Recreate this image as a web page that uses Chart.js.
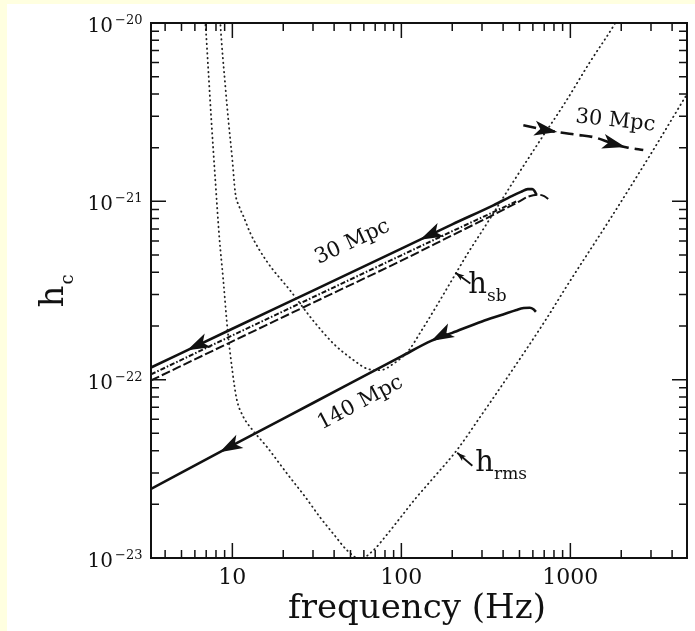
<!DOCTYPE html>
<html>
<head>
<meta charset="utf-8">
<script src="https://cdn.jsdelivr.net/npm/chart.js@4.4.1/dist/chart.umd.min.js"></script>
<style>
  html, body { margin: 0; padding: 0; background: #FFFFE0; }
  canvas { display: block; }
</style>
</head>
<body>
<canvas id="hcChart" width="695" height="631"></canvas>
<script>
// Axis ranges and ticks
const xRange = [3.3, 4900];
const yRange = [1e-23, 1e-20];
const xMajorTicks = [10, 100, 1000];
const xTickLabels = ['10', '100', '1000'];
const xMinorTicks = [4, 5, 6, 7, 8, 9, 20, 30, 40, 50, 60, 70, 80, 90, 200, 300, 400, 500, 600, 700, 800, 900, 2000, 3000, 4000];
const yMajorTicks = [1e-20, 1e-21, 1e-22, 1e-23];
const yTickExponents = ['\u221220', '\u221221', '\u221222', '\u221223'];
const yMinorTicks = [2e-23, 3e-23, 4e-23, 5e-23, 6e-23, 7e-23, 8e-23, 9e-23,
                     2e-22, 3e-22, 4e-22, 5e-22, 6e-22, 7e-22, 8e-22, 9e-22,
                     2e-21, 3e-21, 4e-21, 5e-21, 6e-21, 7e-21, 8e-21, 9e-21];

// h_sb noise curve (upper dotted)
const sbFreq = [8.45, 8.49, 9.09, 9.47, 10.0, 10.4, 11.0, 11.6, 12.8, 16, 22, 30, 40, 52, 63, 75, 90, 110, 130, 160, 195, 250, 300, 460, 663, 935, 1300, 1845, 1950];
const sbH = [1.1e-20, 1e-20, 4.4e-21, 2.85e-21, 1.7e-21, 1.12e-21, 9.3e-22, 8.3e-22, 6.6e-22, 4.6e-22, 3.16e-22, 2.15e-22, 1.58e-22, 1.29e-22, 1.15e-22, 1.13e-22, 1.23e-22, 1.45e-22, 1.85e-22, 2.55e-22, 3.5e-22, 5.2e-22, 6.8e-22, 1.29e-21, 2.2e-21, 3.6e-21, 6.0e-21, 1.0e-20, 1.1e-20];

// h_rms noise curve (lower dotted)
const rmsFreq = [6.85, 6.92, 7.21, 7.51, 7.93, 8.37, 8.84, 9.34, 10.0, 10.6, 11.6, 13.0, 16, 21.2, 27, 33.2, 40, 47.9, 57, 68, 82, 98.5, 121, 150, 214, 300, 412, 700, 1000, 1725, 3000, 4670, 5300];
const rmsH = [1.1e-20, 1e-20, 5.4e-21, 2.85e-21, 1.31e-21, 6.3e-22, 3.6e-22, 1.96e-22, 1.12e-22, 7.8e-23, 6.2e-23, 5.3e-23, 4.2e-23, 2.95e-23, 2.2e-23, 1.68e-23, 1.35e-23, 1.1e-23, 9.9e-24, 1.1e-23, 1.35e-23, 1.68e-23, 2.15e-23, 2.72e-23, 4.05e-23, 6.4e-23, 9.9e-23, 2.1e-22, 3.6e-22, 8.0e-22, 1.85e-21, 3.7e-21, 4.5e-21];

// 30 Mpc tracks (solid, dash-dot, dashed)
const solid30Freq = [3.3, 10, 30, 100, 200, 350, 450, 510, 560, 595, 615, 630];
const solid30H = [1.17e-22, 1.93e-22, 3.16e-22, 5.43e-22, 7.43e-22, 9.5e-22, 1.07e-21, 1.13e-21, 1.17e-21, 1.17e-21, 1.14e-21, 1.09e-21];
const dashDot30Freq = [3.3, 10, 30, 100, 200, 350, 480];
const dashDot30H = [1.07e-22, 1.77e-22, 2.9e-22, 4.98e-22, 6.8e-22, 8.7e-22, 1.0e-21];
const dashed30Freq = [3.3, 10, 30, 100, 200, 350, 500, 560, 640, 700, 750];
const dashed30H = [9.9e-23, 1.64e-22, 2.7e-22, 4.65e-22, 6.45e-22, 8.4e-22, 1.0e-21, 1.06e-21, 1.09e-21, 1.07e-21, 1.02e-21];

// 140 Mpc track
const solid140Freq = [3.3, 10, 30, 100, 150, 200, 300, 400, 480, 530, 575, 605, 625];
const solid140H = [2.44e-23, 4.28e-23, 7.4e-23, 1.35e-22, 1.65e-22, 1.83e-22, 2.12e-22, 2.32e-22, 2.46e-22, 2.52e-22, 2.53e-22, 2.48e-22, 2.4e-22];

// 30 Mpc high-frequency track (dashed, top right)
const top30Freq = [527, 700, 850, 1100, 1400, 1800, 2200, 2700];
const top30H = [2.67e-21, 2.52e-21, 2.44e-21, 2.36e-21, 2.28e-21, 2.1e-21, 2.0e-21, 1.94e-21];

// Arrowheads along the tracks: dataset index, tip frequency, direction (+1 towards higher f)
const arrowSeries = [2, 2, 5, 5, 6, 6];
const arrowFreq = [5.4, 129, 8.4, 150, 837, 2115];
const arrowDir = [-1, -1, -1, -1, 1, 1];

// Text annotations placed in data coordinates
const noteText = ['30 Mpc', '140 Mpc', '30 Mpc'];
const noteFreq = [51.3, 57.2, 1845];
const noteH = [5.9e-22, 7.4e-23, 2.82e-21];
const noteAngle = [-25, -28, 6];

// Noise curve labels with small pointers
const curveLabelMain = ['h', 'h'];
const curveLabelSub = ['sb', 'rms'];
const curveLabelFreq = [249, 274];
const curveLabelH = [3.08e-22, 3.08e-23];
const pointerFromFreq = [256, 263];
const pointerFromH = [3.46e-22, 3.29e-23];
const pointerToFreq = [209, 214];
const pointerToH = [3.98e-22, 3.89e-23];

const serif = '"DejaVu Serif", "Liberation Serif", serif';
const ink = '#111';

function toPoints(fs, hs) {
    return fs.map((f, i) => ({ x: f, y: hs[i] }));
}

// Point on a drawn dataset at a given frequency, with local direction
function pointOnCurve(chart, dsIndex, freq) {
    const px = chart.scales.x.getPixelForValue(freq);
    const pts = chart.getDatasetMeta(dsIndex).data;
    for (let i = 0; i < pts.length - 1; i++) {
        const p0 = pts[i], p1 = pts[i + 1];
        if (px >= p0.x && px <= p1.x) {
            const t = (px - p0.x) / (p1.x - p0.x);
            return { x: px, y: p0.y + t * (p1.y - p0.y), dx: p1.x - p0.x, dy: p1.y - p0.y };
        }
    }
    return null;
}

function drawHead(ctx, tipX, tipY, ux, uy, len, half) {
    const nx = -uy, ny = ux;
    ctx.beginPath();
    ctx.moveTo(tipX, tipY);
    ctx.lineTo(tipX - ux * len + nx * half, tipY - uy * len + ny * half);
    ctx.lineTo(tipX - ux * len * 0.75, tipY - uy * len * 0.75);
    ctx.lineTo(tipX - ux * len - nx * half, tipY - uy * len - ny * half);
    ctx.closePath();
    ctx.fill();
}

// Background: pale yellow page with white panel
const backgroundPlugin = {
    id: 'background',
    beforeDraw(chart) {
        const ctx = chart.ctx;
        ctx.save();
        ctx.fillStyle = '#FFFFE0';
        ctx.fillRect(0, 0, chart.width, chart.height);
        ctx.fillStyle = '#FFFFFF';
        ctx.fillRect(7, 4, chart.width - 7, chart.height - 4);
        ctx.restore();
    }
};

// Frame, inward ticks, tick labels and axis titles
const axesPlugin = {
    id: 'axesFrame',
    afterDraw(chart) {
        const { ctx, chartArea: a, scales: { x, y } } = chart;
        ctx.save();
        ctx.strokeStyle = ink;
        ctx.lineWidth = 2;
        ctx.strokeRect(a.left, a.top, a.right - a.left, a.bottom - a.top);

        ctx.lineWidth = 1.5;
        ctx.beginPath();
        xMinorTicks.forEach(v => {
            const px = x.getPixelForValue(v);
            ctx.moveTo(px, a.bottom); ctx.lineTo(px, a.bottom - 8);
            ctx.moveTo(px, a.top); ctx.lineTo(px, a.top + 8);
        });
        xMajorTicks.forEach(v => {
            const px = x.getPixelForValue(v);
            ctx.moveTo(px, a.bottom); ctx.lineTo(px, a.bottom - 15);
            ctx.moveTo(px, a.top); ctx.lineTo(px, a.top + 15);
        });
        yMinorTicks.forEach(v => {
            const py = y.getPixelForValue(v);
            ctx.moveTo(a.left, py); ctx.lineTo(a.left + 8, py);
            ctx.moveTo(a.right, py); ctx.lineTo(a.right - 8, py);
        });
        yMajorTicks.forEach(v => {
            const py = y.getPixelForValue(v);
            ctx.moveTo(a.left, py); ctx.lineTo(a.left + 15, py);
            ctx.moveTo(a.right, py); ctx.lineTo(a.right - 15, py);
        });
        ctx.stroke();

        ctx.fillStyle = ink;
        ctx.textBaseline = 'alphabetic';
        ctx.font = '22px ' + serif;
        ctx.textAlign = 'center';
        xMajorTicks.forEach((v, i) => {
            ctx.fillText(xTickLabels[i], x.getPixelForValue(v), a.bottom + 26);
        });

        yMajorTicks.forEach((v, i) => {
            const py = y.getPixelForValue(v);
            ctx.font = '20px ' + serif;
            ctx.textAlign = 'right';
            ctx.fillText('10', a.left - 38, py + 9);
            ctx.font = '13px ' + serif;
            ctx.textAlign = 'left';
            ctx.fillText(yTickExponents[i], a.left - 36, py + 1);
        });

        // axis titles
        ctx.font = '34px ' + serif;
        ctx.textAlign = 'center';
        ctx.fillText('frequency (Hz)', (a.left + a.right) / 2 - 2, a.bottom + 60);

        ctx.save();
        ctx.translate(a.left - 88, (a.top + a.bottom) / 2 + 17);
        ctx.rotate(-Math.PI / 2);
        ctx.textAlign = 'left';
        ctx.font = '34px ' + serif;
        ctx.fillText('h', 0, 0);
        const hw = ctx.measureText('h').width;
        ctx.font = '18px ' + serif;
        ctx.fillText('c', hw + 1, 10);
        ctx.restore();
        ctx.restore();
    }
};

// Arrowheads, track labels and curve labels
const notesPlugin = {
    id: 'notes',
    afterDatasetsDraw(chart) {
        const { ctx, scales: { x, y } } = chart;
        ctx.save();
        ctx.fillStyle = ink;
        ctx.strokeStyle = ink;

        arrowFreq.forEach((f, i) => {
            const p = pointOnCurve(chart, arrowSeries[i], f);
            if (!p) return;
            const len = Math.hypot(p.dx, p.dy);
            const ux = p.dx / len * arrowDir[i], uy = p.dy / len * arrowDir[i];
            drawHead(ctx, p.x, p.y, ux, uy, 23, 7.5);
        });

        ctx.font = '21px ' + serif;
        ctx.textAlign = 'center';
        ctx.textBaseline = 'middle';
        noteText.forEach((t, i) => {
            ctx.save();
            ctx.translate(x.getPixelForValue(noteFreq[i]), y.getPixelForValue(noteH[i]));
            ctx.rotate(noteAngle[i] * Math.PI / 180);
            ctx.fillText(t, 0, 0);
            ctx.restore();
        });

        ctx.textAlign = 'left';
        ctx.textBaseline = 'alphabetic';
        curveLabelMain.forEach((m, i) => {
            const lx = x.getPixelForValue(curveLabelFreq[i]);
            const ly = y.getPixelForValue(curveLabelH[i]);
            ctx.font = '29px ' + serif;
            ctx.fillText(m, lx, ly);
            const w = ctx.measureText(m).width;
            ctx.font = '17px ' + serif;
            ctx.fillText(curveLabelSub[i], lx + w, ly + 8);

            const fx = x.getPixelForValue(pointerFromFreq[i]);
            const fy = y.getPixelForValue(pointerFromH[i]);
            const tx = x.getPixelForValue(pointerToFreq[i]);
            const ty = y.getPixelForValue(pointerToH[i]);
            ctx.lineWidth = 1.8;
            ctx.beginPath();
            ctx.moveTo(fx, fy);
            ctx.lineTo(tx, ty);
            ctx.stroke();
            const d = Math.hypot(tx - fx, ty - fy);
            drawHead(ctx, tx, ty, (tx - fx) / d, (ty - fy) / d, 9, 3);
        });
        ctx.restore();
    }
};

const dotted = { borderDash: [0.5, 4.2], borderWidth: 1.8, borderCapStyle: 'round' };

new Chart(document.getElementById('hcChart'), {
    type: 'line',
    data: {
        datasets: [
            { data: toPoints(sbFreq, sbH), borderColor: '#222', ...dotted },
            { data: toPoints(rmsFreq, rmsH), borderColor: '#222', ...dotted },
            { data: toPoints(solid30Freq, solid30H), borderColor: ink, borderWidth: 2.6 },
            { data: toPoints(dashDot30Freq, dashDot30H), borderColor: ink, borderWidth: 2, borderDash: [5, 2, 1.5, 2] },
            { data: toPoints(dashed30Freq, dashed30H), borderColor: ink, borderWidth: 2, borderDash: [9, 3] },
            { data: toPoints(solid140Freq, solid140H), borderColor: ink, borderWidth: 2.6 },
            { data: toPoints(top30Freq, top30H), borderColor: ink, borderWidth: 2.6, borderDash: [13, 6] }
        ]
    },
    options: {
        responsive: false,
        animation: false,
        layout: { padding: { left: 151, right: 8, top: 23, bottom: 73 } },
        elements: { point: { radius: 0 }, line: { cubicInterpolationMode: 'monotone', fill: false } },
        plugins: { legend: { display: false }, tooltip: { enabled: false } },
        scales: {
            x: { type: 'logarithmic', min: xRange[0], max: xRange[1], display: false },
            y: { type: 'logarithmic', min: yRange[0], max: yRange[1], display: false }
        }
    },
    plugins: [backgroundPlugin, axesPlugin, notesPlugin]
});
</script>
</body>
</html>
